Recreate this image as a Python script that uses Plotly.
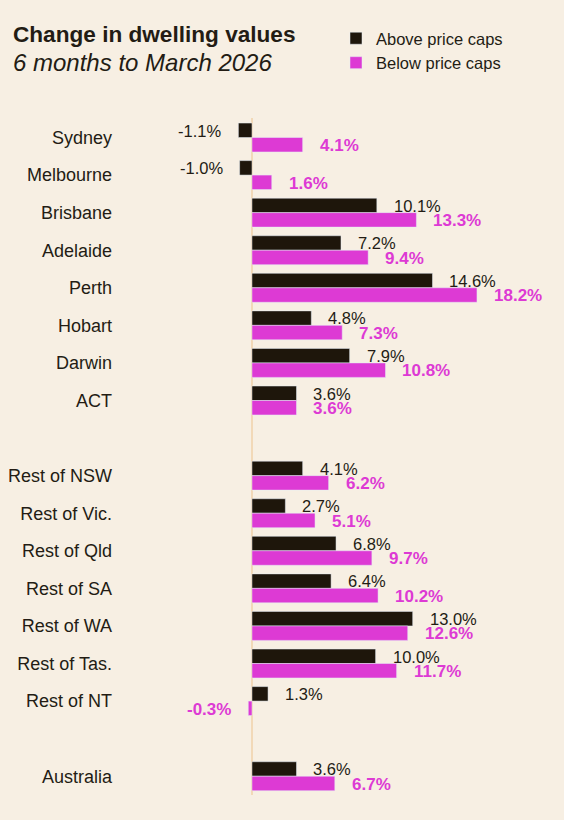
import plotly.graph_objects as go

regions = ["Sydney", "Melbourne", "Brisbane", "Adelaide", "Perth", "Hobart", "Darwin", "ACT",
           " ",
           "Rest of NSW", "Rest of Vic.", "Rest of Qld", "Rest of SA", "Rest of WA", "Rest of Tas.", "Rest of NT",
           "  ",
           "Australia"]
above = [-1.1, -1.0, 10.1, 7.2, 14.6, 4.8, 7.9, 3.6,
         None,
         4.1, 2.7, 6.8, 6.4, 13.0, 10.0, 1.3,
         None,
         3.6]
below = [4.1, 1.6, 13.3, 9.4, 18.2, 7.3, 10.8, 3.6,
         None,
         6.2, 5.1, 9.7, 10.2, 12.6, 11.7, -0.3,
         None,
         6.7]

dark = "#1e160b"
pink = "#dd3ad4"
bg = "#f7efe3"
txt = "#231c14"
font = "Liberation Sans, Arial, sans-serif"

fig = go.Figure()
fig.add_trace(go.Bar(y=regions, x=above, orientation="h", name="Above price caps",
                     marker_color=dark, hoverinfo="skip"))
fig.add_trace(go.Bar(y=regions, x=below, orientation="h", name="Below price caps",
                     marker_color=pink, hoverinfo="skip"))

# value labels, 15px off the end of each bar
for r, a, b in zip(regions, above, below):
    if a is None:
        continue
    fig.add_annotation(x=a, y=r, text=f"{a:.1f}%", showarrow=False,
                       xanchor="left" if a >= 0 else "right",
                       xshift=15 if a >= 0 else -15, yshift=7,
                       font=dict(family=font, size=16.5, color=txt))
    fig.add_annotation(x=b, y=r, text=f"<b>{b:.1f}%</b>", showarrow=False,
                       xanchor="left" if b >= 0 else "right",
                       xshift=15 if b >= 0 else -15, yshift=-8,
                       font=dict(family=font, size=17, color=pink))

fig.update_layout(
    width=564, height=820,
    paper_bgcolor=bg, plot_bgcolor=bg,
    barmode="group", bargap=0.23, bargroupgap=0,
    margin=dict(l=116, r=0, t=118, b=25, autoexpand=False),
    font=dict(family=font, color=txt),
    title=dict(text="<b>Change in dwelling values</b><br><i style='font-size:24px;font-weight:normal'>6 months to March 2026</i>",
               x=13 / 564, xanchor="left", xref="container",
               y=1 - 42 / 820, yanchor="top", yref="container",
               font=dict(size=22.6, color=txt)),
    legend=dict(x=336 / 564, xref="container", y=1 - 21 / 820, yref="container",
                xanchor="left", yanchor="top", bgcolor="rgba(0,0,0,0)", itemwidth=30,
                font=dict(size=16.5, color=txt), traceorder="normal"),
    showlegend=True,
)
fig.update_xaxes(range=[-11.0, 25.24], showgrid=False, showticklabels=False,
                 zeroline=True, zerolinecolor="#f2d9b8", zerolinewidth=2, fixedrange=True)
fig.update_yaxes(autorange="reversed", showgrid=False, ticks="", showline=False, automargin=False,
                 ticklabelstandoff=3, tickfont=dict(size=18, color=txt), fixedrange=True)

fig.write_html("out.html", config={"displayModeBar": False},
               post_script="document.body.style.margin='0';")
